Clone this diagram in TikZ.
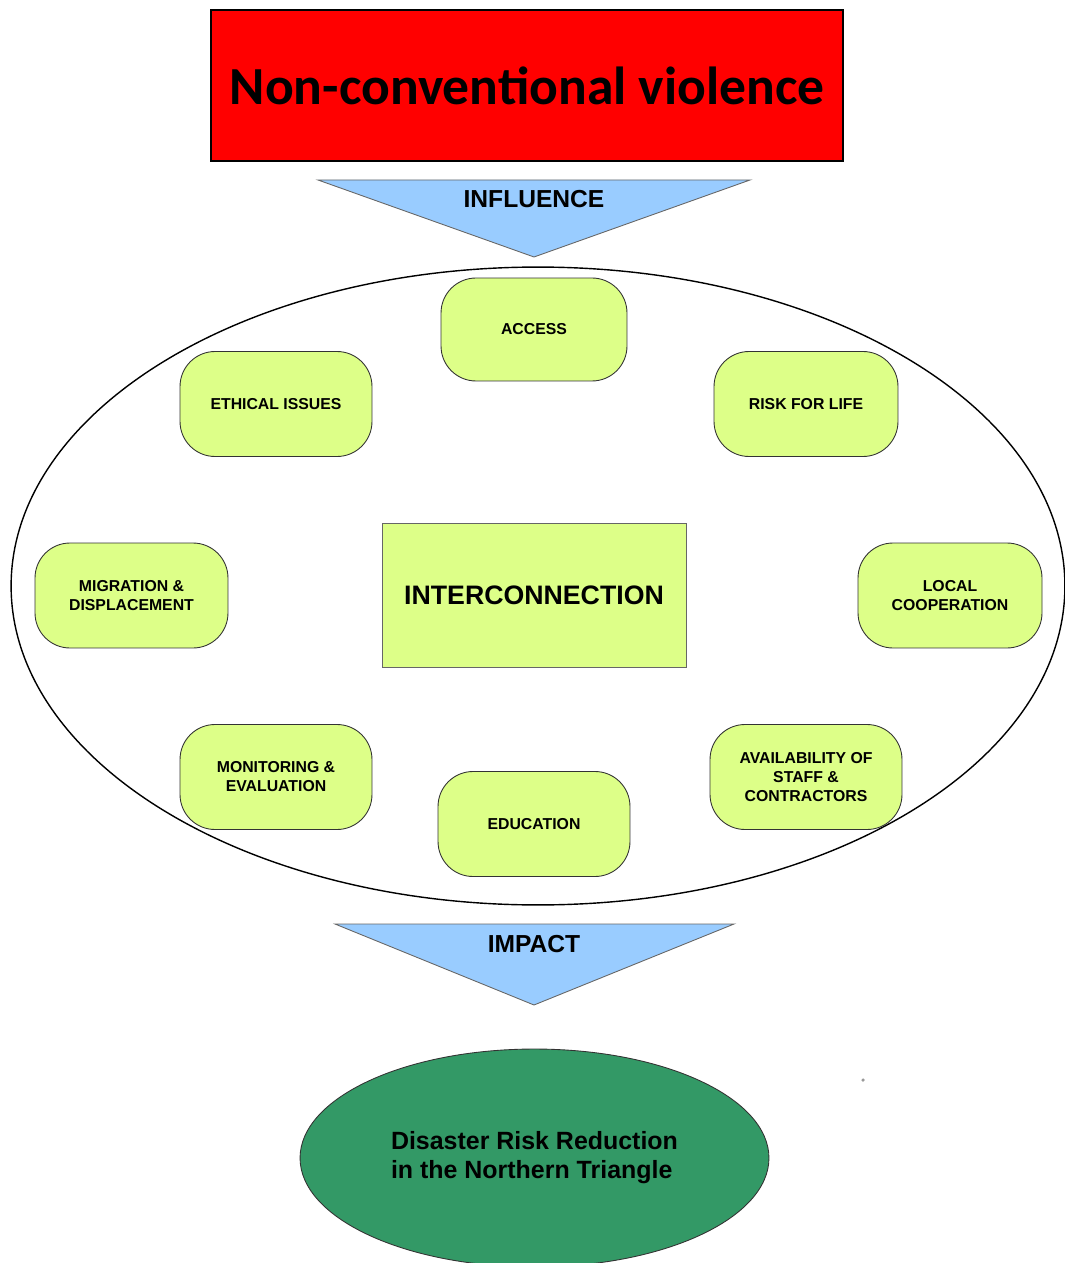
\documentclass[tikz,border=0pt]{standalone}
\usepackage{fontspec}
\setmainfont{Liberation Sans}
\newfontfamily\titlefont{Carlito}
\usepackage{tikz}
\usetikzlibrary{shapes.geometric,positioning,calc}
\definecolor{cViolence}{HTML}{FF0000}
\definecolor{cArrow}{HTML}{99CCFF}
\definecolor{cFactor}{HTML}{DDFF88}
\definecolor{cGoal}{HTML}{339966}

\begin{document}
\begin{tikzpicture}[
  x=0.02cm, y=-0.02cm,
  factor/.style={
    draw=black!80, fill=cFactor, line width=0.5pt,
    rounded corners=0.7cm, inner sep=0pt, align=center,
    minimum width=3.84cm, minimum height=2.1cm,
    font=\fontsize{9}{10.8}\selectfont\bfseries
  },
  funnel/.style={draw=black!60, fill=cArrow, line width=0.5pt},
  arrowtext/.style={font=\fontsize{14}{16}\selectfont\bfseries},
]
\useasboundingbox (0,0) rectangle (1064,1263);
% Source
\node[draw=black, fill=cViolence, line width=0.9pt,
  minimum width=12.64cm, minimum height=3.02cm,
  font=\titlefont\fontsize{30.5}{36}\selectfont\bfseries]
  (violence) at (527,85.5) {Non-conventional violence};
% Influence
\draw[funnel] (318,180) -- (750,180) -- (534,257) -- cycle;
\node[arrowtext] (influence) at (534,199) {INFLUENCE};
% Ring of factors
\node[draw=black, ellipse, line width=0.8pt, inner sep=0pt,
  minimum width=21.08cm, minimum height=12.76cm] (ring) at (538,586) {};
\node[draw=black!60, fill=cFactor, line width=0.5pt,
  minimum width=6.08cm, minimum height=2.88cm,
  font=\fontsize{15.2}{18}\selectfont\bfseries]
  (inter) at (534,595) {INTERCONNECTION};
\node[factor, minimum width=3.72cm, minimum height=2.06cm] (access) at (534,329.5) {ACCESS};
\node[factor] (ethical) at (276,404) {ETHICAL ISSUES};
\node[factor, minimum width=3.68cm] (risk) at (806,404) {RISK FOR LIFE};
\node[factor, minimum width=3.86cm] (migration) at (131.5,595.5) {MIGRATION \&\\DISPLACEMENT};
\node[factor, minimum width=3.68cm] (local) at (950,595.5) {LOCAL\\COOPERATION};
\node[factor] (monitoring) at (276,777) {MONITORING \&\\EVALUATION};
\node[factor] (education) at (534,824) {EDUCATION};
\node[factor] (staff) at (806,777) {AVAILABILITY OF\\STAFF \&\\CONTRACTORS};
% Impact
\draw[funnel] (335,924) -- (734,924) -- (534,1005) -- cycle;
\node[arrowtext] (impact) at (534,944) {IMPACT};
% Goal
\node[draw=black!80, fill=cGoal, ellipse, line width=0.5pt, inner sep=0pt,
  minimum width=9.38cm, minimum height=4.36cm, align=left,
  font=\fontsize{14.2}{16.5}\selectfont\bfseries]
  (drr) at (534.5,1158) {Disaster Risk Reduction\\in the Northern Triangle};
\fill[black!40] (863,1080) circle (1pt);
\end{tikzpicture}
\end{document}
